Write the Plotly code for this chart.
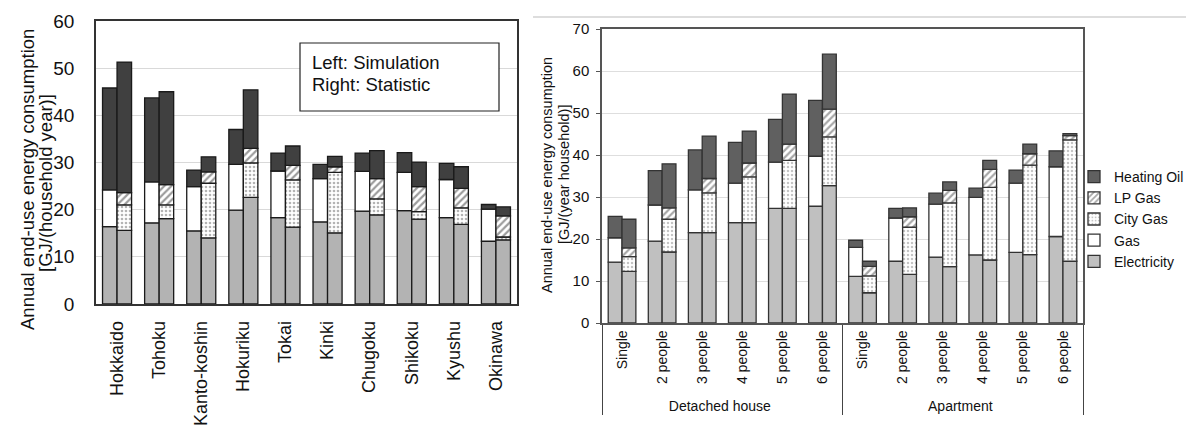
import numpy as np
import plotly.graph_objects as go

# ---------------- Left panel data (regions) ----------------
regions = ["Hokkaido", "Tohoku", "Kanto-koshin", "Hokuriku", "Tokai",
           "Kinki", "Chugoku", "Shikoku", "Kyushu", "Okinawa"]
# Simulation: Electricity, Gas, Heating Oil
reg_sim_elec = [16.4, 17.2, 15.5, 19.9, 18.3, 17.4, 19.7, 19.8, 18.3, 13.3]
reg_sim_gas = [7.8, 8.7, 9.4, 9.7, 9.9, 9.2, 8.4, 8.1, 8.1, 6.8]
reg_sim_oil = [21.6, 17.8, 3.5, 7.4, 3.8, 3.0, 3.9, 4.2, 3.4, 1.0]
# Statistic: Electricity, City Gas, LP Gas, Heating Oil
reg_stat_elec = [15.6, 18.1, 14.0, 22.6, 16.3, 15.1, 18.9, 18.0, 16.9, 13.6]
reg_stat_city = [5.4, 2.9, 11.6, 7.3, 10.0, 12.8, 3.4, 1.6, 3.5, 0.6]
reg_stat_lp = [2.6, 4.3, 2.4, 3.1, 3.1, 1.2, 4.3, 5.3, 4.1, 4.5]
reg_stat_oil = [27.7, 19.7, 3.2, 12.4, 4.1, 2.2, 5.9, 5.2, 4.6, 1.9]

# ---------------- Right panel data (household types) ----------------
house_types = ["Detached house"] * 6 + ["Apartment"] * 6
members = ["Single", "2 people", "3 people", "4 people", "5 people", "6 people"] * 2
hh_sim_elec = [14.5, 19.5, 21.5, 23.9, 27.3, 27.8, 11.1, 14.7, 15.7, 16.2, 16.8, 20.6]
hh_sim_gas = [5.8, 8.6, 10.2, 9.4, 11.0, 11.9, 6.9, 10.3, 12.6, 13.7, 16.5, 16.6]
hh_sim_oil = [5.1, 8.2, 9.5, 9.7, 10.2, 13.3, 1.7, 2.3, 2.6, 2.2, 3.1, 3.8]
hh_stat_elec = [12.3, 16.9, 21.5, 23.9, 27.3, 32.7, 7.2, 11.6, 13.4, 15.0, 16.3, 14.7]
hh_stat_city = [3.5, 7.8, 9.5, 10.9, 11.4, 11.6, 4.0, 11.2, 15.2, 17.3, 21.3, 28.9]
hh_stat_lp = [2.1, 2.7, 3.4, 3.3, 3.9, 6.6, 2.3, 2.5, 3.0, 4.3, 2.7, 1.0]
hh_stat_oil = [6.8, 10.5, 10.1, 7.6, 11.9, 13.1, 1.2, 2.1, 2.0, 2.1, 2.3, 0.5]

FONT = "Arial, Liberation Sans, sans-serif"
W, H = 1186, 427

fig = go.Figure()


def add_stack(x, segments, offsetgroup, xaxis, yaxis, styles, legend_names, line_color):
    base = np.zeros(len(segments[0][1]))
    for name, vals in segments:
        vals = np.array(vals, dtype=float)
        st = styles[name]
        marker = dict(color=st["color"], line=dict(color=line_color, width=1.3))
        if "pattern" in st:
            marker["pattern"] = st["pattern"]
        fig.add_trace(go.Bar(
            x=x, y=vals, base=base.copy(), name=name,
            offsetgroup=offsetgroup, legendgroup=name,
            showlegend=bool(legend_names) and (name in legend_names),
            legendrank=st["rank"],
            marker=marker, xaxis=xaxis, yaxis=yaxis,
            hovertemplate=name + ": %{y}<extra></extra>",
        ))
        base = base + vals


left_styles = {
    "Electricity": dict(color="#b3b3b3", rank=5),
    "Gas": dict(color="#ffffff", rank=4),
    "City Gas": dict(color="#ffffff", rank=3,
                     pattern=dict(shape=".", fgcolor="#6a6a6a", bgcolor="#ffffff", size=4, solidity=0.35)),
    "LP Gas": dict(color="#ffffff", rank=2,
                   pattern=dict(shape="/", fgcolor="#3a3a3a", bgcolor="#ffffff", size=5, solidity=0.45)),
    "Heating Oil": dict(color="#404040", rank=1),
}
right_styles = {
    "Electricity": dict(color="#c0c0c0", rank=5),
    "Gas": dict(color="#ffffff", rank=4),
    "City Gas": dict(color="#ffffff", rank=3,
                     pattern=dict(shape=".", fgcolor="#8a8a8a", bgcolor="#ffffff", size=4, solidity=0.3)),
    "LP Gas": dict(color="#ffffff", rank=2,
                   pattern=dict(shape="/", fgcolor="#505050", bgcolor="#ffffff", size=5, solidity=0.45)),
    "Heating Oil": dict(color="#606060", rank=1),
}

# Left panel
add_stack(regions, [("Electricity", reg_sim_elec), ("Gas", reg_sim_gas), ("Heating Oil", reg_sim_oil)],
          "sim", "x", "y", left_styles, None, "#1a1a1a")
add_stack(regions, [("Electricity", reg_stat_elec), ("City Gas", reg_stat_city),
                    ("LP Gas", reg_stat_lp), ("Heating Oil", reg_stat_oil)],
          "stat", "x", "y", left_styles, None, "#1a1a1a")

# Right panel
xr = [house_types, members]
add_stack(xr, [("Electricity", hh_sim_elec), ("Gas", hh_sim_gas), ("Heating Oil", hh_sim_oil)],
          "sim", "x2", "y2", right_styles, {"Gas"}, "#333333")
add_stack(xr, [("Electricity", hh_stat_elec), ("City Gas", hh_stat_city),
               ("LP Gas", hh_stat_lp), ("Heating Oil", hh_stat_oil)],
          "stat", "x2", "y2", right_styles, {"Electricity", "City Gas", "LP Gas", "Heating Oil"}, "#333333")


def px(v):
    return v / W


def py(v):
    return (H - v) / H


fig.update_layout(
    width=W, height=H, autosize=False,
    margin=dict(l=0, r=0, t=0, b=0, autoexpand=False),
    paper_bgcolor="white", plot_bgcolor="white",
    barmode="group", bargap=0.31, bargroupgap=0.0,
    font=dict(family=FONT, color="#000000"),
    showlegend=True,
    legend=dict(x=px(1074), y=py(161), xanchor="left", yanchor="top",
                font=dict(size=14, family=FONT, color="#111111"),
                bgcolor="rgba(0,0,0,0)", itemwidth=30, tracegroupgap=0),
    xaxis=dict(domain=[px(96), px(517)], anchor="y", type="category",
               tickangle=-90, tickfont=dict(size=18, family=FONT, color="#111111"),
               ticks="", ticklabelstandoff=8,
               showline=True, linecolor="#333333", linewidth=1.5, mirror=True,
               showgrid=False, automargin=False),
    yaxis=dict(domain=[py(304), py(21)], anchor="x", range=[0, 60], dtick=10,
               tickfont=dict(size=19, family=FONT, color="#111111"),
               ticks="", ticklabelstandoff=16,
               showline=True, linecolor="#333333", linewidth=1.5, mirror=True,
               showgrid=True, gridcolor="#d9d9d9", gridwidth=1, zeroline=False,
               automargin=False),
    xaxis2=dict(domain=[px(602), px(1083)], anchor="y2", type="multicategory",
                tickangle=-90, tickfont=dict(size=14, family=FONT, color="#111111"),
                ticks="", showdividers=True, dividercolor="#444444", dividerwidth=1,
                showline=True, linecolor="#555555", linewidth=1.5, mirror=True,
                showgrid=False, automargin=False),
    yaxis2=dict(domain=[py(323), py(29)], anchor="x2", range=[0, 70], dtick=10,
                tickfont=dict(size=15, family=FONT, color="#111111"),
                ticks="outside", ticklen=4, tickcolor="#555555", ticklabelstandoff=4,
                showline=True, linecolor="#555555", linewidth=1.5, mirror=True,
                showgrid=True, gridcolor="#dedede", gridwidth=1, zeroline=False,
                automargin=False),
)

# Axis titles (rotated annotations, one per line)
fig.add_annotation(text="Annual end-use energy consumption",
                   xref="paper", yref="paper", x=px(27), y=py(180),
                   xanchor="center", yanchor="middle", textangle=-90, showarrow=False,
                   font=dict(size=18.5, family=FONT, color="#111111"))
fig.add_annotation(text="[GJ/(household year)]",
                   xref="paper", yref="paper", x=px(45), y=py(183),
                   xanchor="center", yanchor="middle", textangle=-90, showarrow=False,
                   font=dict(size=18.5, family=FONT, color="#111111"))
fig.add_annotation(text="Annual end-use energy consumption",
                   xref="paper", yref="paper", x=px(547), y=py(175),
                   xanchor="center", yanchor="middle", textangle=-90, showarrow=False,
                   font=dict(size=14.5, family=FONT, color="#111111"))
fig.add_annotation(text="[GJ/(year household)]",
                   xref="paper", yref="paper", x=px(564), y=py(175),
                   xanchor="center", yanchor="middle", textangle=-90, showarrow=False,
                   font=dict(size=14.5, family=FONT, color="#111111"))

# Note box in left panel
fig.add_shape(type="rect", xref="paper", yref="paper",
              x0=px(300), x1=px(499), y0=py(111), y1=py(43),
              line=dict(color="#222222", width=1.2), fillcolor="white", layer="above")
fig.add_annotation(text="Left: Simulation",
                   xref="paper", yref="paper", x=px(310), y=py(62),
                   xanchor="left", yanchor="middle", showarrow=False,
                   font=dict(size=18.5, family=FONT, color="#111111"))
fig.add_annotation(text="Right: Statistic",
                   xref="paper", yref="paper", x=px(310), y=py(84),
                   xanchor="left", yanchor="middle", showarrow=False,
                   font=dict(size=18.5, family=FONT, color="#111111"))

# Outer border line at the top of the right chart
fig.add_shape(type="line", xref="paper", yref="paper",
              x0=px(533), x1=1.0, y0=py(17), y1=py(17),
              line=dict(color="#bbbbbb", width=1.2))

fig.write_html("out.html")
